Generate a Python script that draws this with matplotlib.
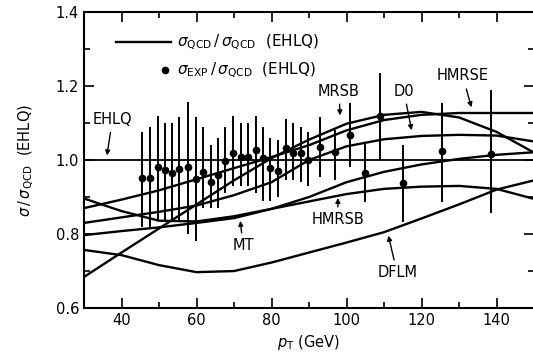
import numpy as np
import matplotlib
matplotlib.use('Agg')
import matplotlib.pyplot as plt
from matplotlib.ticker import MultipleLocator

# measured points: sigma_EXP / sigma_QCD(EHLQ)
pt_data = [45.5, 47.6, 49.6, 51.6, 53.4, 55.4, 57.7, 59.9, 61.6, 63.8,
           65.8, 67.6, 69.6, 71.8, 73.8, 75.9, 77.8, 79.6, 81.8, 83.9,
           85.8, 87.8, 89.8, 92.9, 96.9, 100.9, 104.9, 109.0, 115.1, 125.4, 138.5]
ratio = [0.951, 0.951, 0.982, 0.973, 0.965, 0.976, 0.980, 0.949, 0.968, 0.940,
         0.960, 0.997, 1.020, 1.009, 1.009, 1.027, 1.005, 0.979, 0.971, 1.032,
         1.019, 1.019, 1.000, 1.035, 1.022, 1.068, 0.966, 1.120, 0.937, 1.025, 1.015]
err_low = [0.818, 0.818, 0.835, 0.835, 0.835, 0.835, 0.800, 0.780, 0.870, 0.870,
           0.870, 0.910, 0.930, 0.930, 0.930, 0.910, 0.890, 0.890, 0.900, 0.946,
           0.946, 0.940, 0.930, 0.955, 0.946, 0.981, 0.886, 1.000, 0.832, 0.886, 0.857]
err_high = [1.076, 1.090, 1.119, 1.100, 1.100, 1.117, 1.157, 1.117, 1.090, 1.040,
            1.060, 1.090, 1.120, 1.100, 1.100, 1.120, 1.090, 1.060, 1.054, 1.110,
            1.100, 1.090, 1.076, 1.117, 1.080, 1.154, 1.046, 1.235, 1.040, 1.154, 1.190]

# QCD predictions relative to EHLQ
pt_curve = [30, 40, 50, 60, 70, 80, 90, 100, 110, 120, 130, 140, 150]
mrsb = [0.684, 0.750, 0.815, 0.880, 0.945, 1.005, 1.055, 1.098, 1.122, 1.130, 1.115, 1.076, 1.020]
hmrse = [0.870, 0.893, 0.918, 0.948, 0.978, 1.008, 1.040, 1.080, 1.108, 1.122, 1.127, 1.127, 1.127]
d0 = [0.830, 0.845, 0.860, 0.877, 0.905, 0.940, 1.000, 1.037, 1.056, 1.065, 1.068, 1.066, 1.050]
hmrsb = [0.896, 0.862, 0.836, 0.834, 0.848, 0.868, 0.888, 0.908, 0.922, 0.928, 0.930, 0.922, 0.895]
mt = [0.797, 0.808, 0.818, 0.830, 0.843, 0.868, 0.900, 0.940, 0.968, 0.988, 1.003, 1.014, 1.021]
dflm = [0.757, 0.743, 0.716, 0.697, 0.700, 0.723, 0.750, 0.777, 0.805, 0.842, 0.880, 0.920, 0.945]
ehlq = 1.0

fig = plt.figure(figsize=(5.33, 3.62), dpi=100)
ax = fig.add_axes([0.1576, 0.149, 0.8443, 0.818])

ax.axhline(ehlq, color='k', lw=1.3)
for y in [mrsb, hmrse, d0, hmrsb, mt, dflm]:
    ax.plot(pt_curve, y, color='k', lw=1.7)

r = np.array(ratio)
yerr = [r - np.array(err_low), np.array(err_high) - r]
ax.errorbar(pt_data, ratio, yerr=yerr, fmt='o', color='k', ms=4.5,
            elinewidth=1.4, capsize=0)

# legend drawn by hand like the original
ax.plot([38.4, 53.2], [1.319, 1.319], color='k', lw=1.7)
ax.text(54.8, 1.319, r'$\sigma_{\rm QCD}\,/\,\sigma_{\rm QCD}$  (EHLQ)', va='center', fontsize=11)
ax.plot([51.5], [1.243], 'o', color='k', ms=4.5)
ax.text(54.8, 1.243, r'$\sigma_{\rm EXP}\,/\,\sigma_{\rm QCD}$  (EHLQ)', va='center', fontsize=11)

arrow = dict(arrowstyle='-|>', color='k', lw=1.0, mutation_scale=7)
labels = [('EHLQ', (37.6, 1.11), (36.0, 1.005)),
          ('MRSB', (98.0, 1.186), (98.3, 1.113)),
          ('D0', (115.3, 1.186), (117.5, 1.073)),
          ('HMRSE', (131.0, 1.227), (133.5, 1.135)),
          ('HMRSB', (97.7, 0.838), (97.7, 0.905)),
          ('DFLM', (113.5, 0.695), (111.0, 0.803)),
          ('MT', (72.4, 0.768), (71.6, 0.843))]
for name, txy, axy in labels:
    ax.annotate(name, xy=axy, xytext=txy, ha='center', va='center',
                fontsize=10.5, arrowprops=arrow)

ax.set_xlim(30, 150)
ax.set_ylim(0.6, 1.4)
ax.xaxis.set_major_locator(MultipleLocator(20))
ax.xaxis.set_minor_locator(MultipleLocator(10))
ax.yaxis.set_major_locator(MultipleLocator(0.2))
ax.yaxis.set_minor_locator(MultipleLocator(0.1))
ax.set_xticks([40, 60, 80, 100, 120, 140])
ax.tick_params(which='both', direction='in', top=True, right=True, labelsize=10.5)
ax.tick_params(which='major', length=7, width=1.2)
ax.tick_params(which='minor', length=4, width=1.2)
ax.yaxis.set_major_formatter(matplotlib.ticker.FormatStrFormatter('%.1f'))
for s in ax.spines.values():
    s.set_linewidth(1.5)

ax.set_xlabel(r'$p_{\rm T}$ (GeV)', fontsize=10.5)
ax.set_ylabel(r'$\sigma\,/\,\sigma_{\rm QCD}$  (EHLQ)', fontsize=10.5, labelpad=14)

fig.savefig('out.png', dpi=100)
